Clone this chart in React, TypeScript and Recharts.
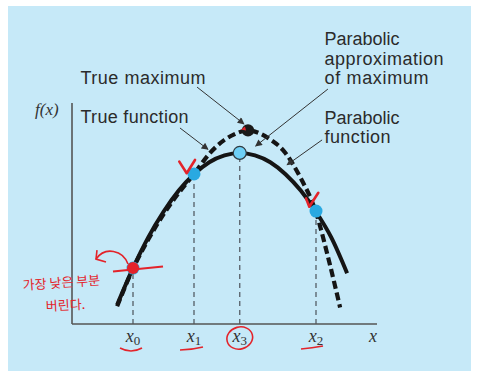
import React from 'react';
import { ComposedChart, Line, Scatter, XAxis, YAxis, ReferenceLine } from 'recharts';

// ---- data (x axis 0..10, y axis 0..10) ----
const parabolaX = [1.48, 2, 2.5, 3, 3.5, 4, 4.5, 5, 5.5, 6, 6.5, 7, 7.5, 8, 8.5, 9.02];
const parabolaY = [0.87, 2.53, 3.92, 5.08, 6.04, 6.78, 7.32, 7.63, 7.74, 7.63, 7.32, 6.78, 6.04, 5.08, 3.92, 2.3];

const trueX = [1.48, 2, 2.5, 3, 3.5, 4, 4.5, 5, 5.3, 5.77, 6.2, 6.5, 6.92, 7.48, 8, 8.4, 8.79];
const trueY = [0.8, 2.5, 3.82, 4.96, 5.93, 6.79, 7.7, 8.33, 8.57, 8.76, 8.6, 8.35, 7.87, 6.65, 5.05, 3.0, 0.75];

const discardedX = [2];
const discardedY = [2.53];
const keptX = [4, 8];
const keptY = [6.79, 5.11];
const estimateX = [5.5];
const estimateY = [7.74];
const trueMaxX = [5.77];
const trueMaxY = [8.76];

const tickValues = [2, 4, 5.5, 8, 9.87];
const tickSubs = ['0', '1', '3', '2', ''];

// leader lines: [x1, y1, x2, y2] in data units
const leaderTrueMax = [4.1, 10.72, 5.64, 9.05];
const leaderApprox = [8.39, 10.63, 6.02, 8.05];
const leaderTrueFn = [3.54, 8.87, 4.46, 7.9];
const leaderParabFn = [8.2, 8.33, 7.05, 7.2];

const parabolaData = parabolaX.map((x, i) => ({ x, y: parabolaY[i] }));
const trueData = trueX.map((x, i) => ({ x, y: trueY[i] }));
const discardedData = discardedX.map((x, i) => ({ x, y: discardedY[i] }));
const keptData = keptX.map((x, i) => ({ x, y: keptY[i] }));
const estimateData = estimateX.map((x, i) => ({ x, y: estimateY[i] }));
const trueMaxData = trueMaxX.map((x, i) => ({ x, y: trueMaxY[i] }));
const allPoints = [...discardedData, ...keptData, ...estimateData];

const RED = '#e3232a';
const INK = '#2b2b2b';

const XTick = (props: any) => {
  const { x, y, index } = props;
  const sub = tickSubs[index];
  const by = y + 18;
  let deco: React.ReactNode = null;
  if (sub === '0') deco = <path d={`M ${x - 13} ${by + 6} Q ${x - 2} ${by + 12} ${x + 9} ${by + 6}`} stroke={RED} strokeWidth={1.6} fill="none" />;
  if (sub === '1') deco = <path d={`M ${x - 14} ${by + 8} Q ${x - 3} ${by + 8} ${x + 9} ${by + 5}`} stroke={RED} strokeWidth={1.6} fill="none" />;
  if (sub === '2') deco = <path d={`M ${x - 15} ${by + 7} Q ${x - 4} ${by + 6} ${x + 7} ${by + 4}`} stroke={RED} strokeWidth={1.6} fill="none" />;
  if (sub === '3') deco = <ellipse cx={x} cy={by - 4} rx={13} ry={11} transform={`rotate(-15 ${x} ${by - 4})`} stroke={RED} strokeWidth={1.6} fill="none" />;
  return (
    <g>
      <text x={x} y={by} textAnchor="middle" fontFamily="'Liberation Serif', serif" fontStyle="italic" fontSize={18} fill="#333">
        x{sub ? <tspan fontStyle="normal" fontSize={13} dy={3}>{sub}</tspan> : null}
      </text>
      {deco}
    </g>
  );
};

const DiscardedShape = (props: any) => {
  const { cx, cy } = props;
  return (
    <g>
      <circle cx={cx} cy={cy} r={6.5} fill="#29a9e1" />
      <circle cx={cx} cy={cy} r={6} fill={RED} />
      <path d={`M ${cx - 20} ${cy + 3.4} L ${cx + 30} ${cy - 1.6}`} stroke={RED} strokeWidth={2.2} fill="none" />
      <path d={`M ${cx - 5} ${cy - 4} C ${cx - 10} ${cy - 18} ${cx - 28} ${cy - 22} ${cx - 37} ${cy - 9}`} stroke={RED} strokeWidth={1.6} fill="none" />
      <path d={`M ${cx - 36} ${cy - 18} L ${cx - 37} ${cy - 9} L ${cx - 27} ${cy - 6}`} stroke={RED} strokeWidth={1.6} fill="none" />
    </g>
  );
};

const KeptShape = (props: any) => {
  const { cx, cy, payload } = props;
  const first = payload && payload.x === keptX[0];
  const d = first
    ? `M ${cx - 14.7} ${cy - 12.3} L ${cx - 7.3} ${cy - 0.7} L ${cx + 1} ${cy - 14}`
    : `M ${cx - 10} ${cy - 12.7} L ${cx - 6.7} ${cy - 4.3} L ${cx + 2.3} ${cy - 18.3}`;
  return (
    <g>
      <circle cx={cx} cy={cy} r={6.5} fill="#29a9e1" />
      <path d={d} stroke={RED} strokeWidth={2.6} fill="none" strokeLinejoin="round" strokeLinecap="round" />
    </g>
  );
};

const EstimateShape = (props: any) => {
  const { cx, cy } = props;
  return <circle cx={cx} cy={cy} r={6.5} fill="#6dcff6" stroke="#2f3a40" strokeWidth={1.2} />;
};

const TrueMaxShape = (props: any) => {
  const { cx, cy } = props;
  return (
    <g>
      <circle cx={cx} cy={cy} r={6.2} fill="#1a1a1a" />
      <path d={`M ${cx - 7} ${cy - 1} L ${cx - 3} ${cy - 4} L ${cx - 2} ${cy} Z`} fill={RED} />
    </g>
  );
};

const leader = (s: number[], key: string) => (
  <ReferenceLine
    key={key}
    segment={[{ x: s[0], y: s[1] }, { x: s[2], y: s[3] }]}
    stroke="#333"
    strokeWidth={1}
    ifOverflow="visible"
    markerEnd="url(#arrowHead)"
  />
);

const labelFont = "'Liberation Sans', Arial, sans-serif";

export default function App() {
  return (
    <div style={{ position: 'absolute', left: 0, top: 0, width: 480, height: 377, background: '#ffffff', overflow: 'hidden' }}>
      <svg width={0} height={0} style={{ position: 'absolute' }}>
        <defs>
          <marker id="arrowHead" viewBox="0 0 10 10" refX="9" refY="5" markerWidth="8" markerHeight="7" markerUnits="userSpaceOnUse" orient="auto">
            <path d="M 0 0 L 10 5 L 0 10 Z" fill="#333" />
          </marker>
        </defs>
      </svg>
      <div style={{ position: 'absolute', left: 8, top: 6, width: 463, height: 365, background: '#c6e9f8' }} />
      <div style={{ position: 'absolute', left: 0, top: 0 }}>
        <ComposedChart width={480} height={377} margin={{ top: 103, right: 103, bottom: 33, left: 62 }}>
          <XAxis
            type="number"
            dataKey="x"
            domain={[0, 10]}
            ticks={tickValues}
            interval={0}
            height={20}
            tickLine={false}
            tickSize={0}
            tickMargin={0}
            axisLine={{ stroke: '#555', strokeWidth: 1.6 }}
            tick={<XTick />}
            allowDataOverflow
          />
          <YAxis
            type="number"
            dataKey="y"
            domain={[0, 10]}
            width={10}
            tick={false}
            tickLine={false}
            axisLine={{ stroke: '#555', strokeWidth: 1.6 }}
            allowDataOverflow
          />
          {allPoints.map((p, i) => (
            <ReferenceLine
              key={'v' + i}
              segment={[{ x: p.x, y: 0 }, { x: p.x, y: p.y }]}
              stroke="#555e66"
              strokeWidth={1.3}
              strokeDasharray="5 4"
            />
          ))}
          <Line data={trueData} dataKey="y" type="monotone" stroke="#151515" strokeWidth={4.2} strokeDasharray="8 4" dot={false} isAnimationActive={false} />
          <Line data={parabolaData} dataKey="y" type="monotone" stroke="#151515" strokeWidth={4} dot={false} isAnimationActive={false} />
          {leader(leaderTrueMax, 'l1')}
          {leader(leaderApprox, 'l2')}
          {leader(leaderTrueFn, 'l3')}
          {leader(leaderParabFn, 'l4')}
          <Scatter data={discardedData} dataKey="y" shape={<DiscardedShape />} isAnimationActive={false} />
          <Scatter data={keptData} dataKey="y" shape={<KeptShape />} isAnimationActive={false} />
          <Scatter data={estimateData} dataKey="y" shape={<EstimateShape />} isAnimationActive={false} />
          <Scatter data={trueMaxData} dataKey="y" shape={<TrueMaxShape />} isAnimationActive={false} />
        </ComposedChart>
      </div>
      <svg width={480} height={377} style={{ position: 'absolute', left: 0, top: 0, pointerEvents: 'none' }}>
        <text x={35} y={115} fontFamily="'Liberation Serif', serif" fontStyle="italic" fontSize={17} fill="#333">f(x)</text>
        <g fontFamily={labelFont} fontSize={18} fill={INK}>
          <text x={80.5} y={84} textLength={125} lengthAdjust="spacing">True maximum</text>
          <text x={80.5} y={123} textLength={108} lengthAdjust="spacing">True function</text>
          <text x={324.5} y={45} textLength={75} lengthAdjust="spacing">Parabolic</text>
          <text x={324.5} y={64.5} textLength={119} lengthAdjust="spacing">approximation</text>
          <text x={324.5} y={84} textLength={104} lengthAdjust="spacing">of maximum</text>
          <text x={324.5} y={124} textLength={75} lengthAdjust="spacing">Parabolic</text>
          <text x={324.5} y={143} textLength={66} lengthAdjust="spacing">function</text>
        </g>
        <g fontFamily="'Noto Sans CJK KR', sans-serif" fontSize={13} fill={RED}>
          <text x={23} y={290} transform="rotate(-4 23 290)">가장 낮은 부분</text>
          <text x={46} y={311} transform="rotate(-3 46 311)">버린다.</text>
        </g>
      </svg>
    </div>
  );
}
